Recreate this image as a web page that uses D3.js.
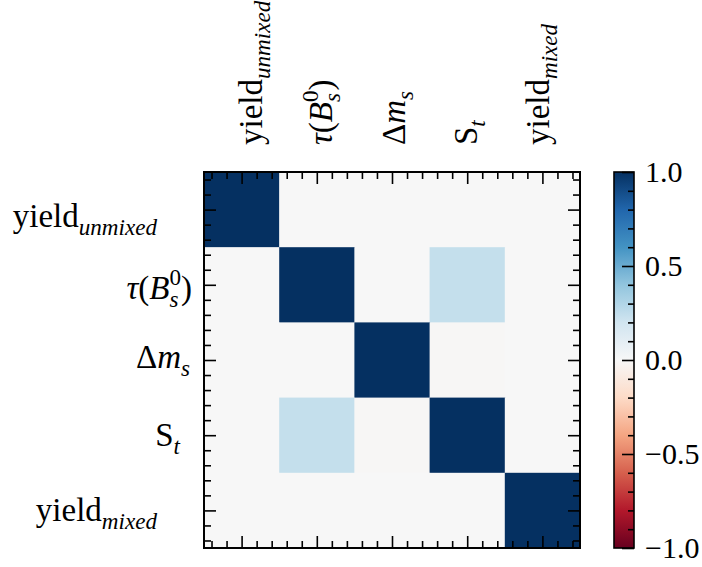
<!DOCTYPE html>
<html>
<head>
<meta charset="utf-8">
<script src="https://cdn.jsdelivr.net/npm/d3@7"></script>
<style>
  body { margin: 0; background: #fff; }
  text { font-family: "Liberation Serif", "DejaVu Serif", serif; fill: #000; }
</style>
</head>
<body>
<div id="chart"></div>
<script>
// variable names (tick labels), split into math pieces
var names = ["yield_unmixed", "tau_Bs0", "dm_s", "S_t", "yield_mixed"];
var labelParts = [
    [["yield", "r"], ["unmixed", "sub"]],
    [["τ", "i"], ["(", "r"], ["B", "i"], ["s", "sub"], ["0", "sup"], [")", "r"]],
    [["Δ", "r"], ["m", "i"], ["s", "sub"]],
    [["S", "r"], ["t", "sub"]],
    [["yield", "r"], ["mixed", "sub"]]
];
// correlation matrix (rows = y labels, cols = x labels)
var corr = [
    [1.00, 0.00, 0.00, 0.00, 0.00],
    [0.00, 1.00, 0.00, 0.24, 0.00],
    [0.00, 0.00, 1.00, -0.01, 0.00],
    [0.00, 0.24, -0.01, 1.00, 0.00],
    [0.00, 0.00, 0.00, 0.00, 1.00]
];
var cbarTicks = [-1, -0.5, 0, 0.5, 1];
// RdBu stops, red end first
var rdbu = ["#67001f", "#b2182b", "#d6604d", "#f4a582", "#fddbc7", "#f7f7f7",
            "#d1e5f0", "#92c5de", "#4393c3", "#2166ac", "#053061"];

var svgWidth = 702, svgHeight = 567;
var plot = {left: 204, top: 172, size: 376};
var cbar = {left: 614, width: 20};
var fs = 33;
// per-label nudges to mimic the mathtext bounding boxes
var yLabelDx = [-35, 0, -2, -12, -35];
var yShift = [17, 14, 8, 11, 11];
var xShift = [20, 15, 13, 10, 7];

var svg = d3.select("#chart").append("svg")
    .attr("width", svgWidth)
    .attr("height", svgHeight);

svg.append("rect").attr("width", svgWidth).attr("height", svgHeight).attr("fill", "#fff");

var color = d3.scaleLinear()
    .domain(d3.range(rdbu.length).map(i => -1 + 2 * i / (rdbu.length - 1)))
    .range(rdbu)
    .clamp(true);

var band = d3.scaleBand().domain(d3.range(names.length)).range([0, plot.size]);
// continuous index scale used for the ticks
var idx = d3.scaleLinear().domain([-0.5, names.length - 0.5]).range([0, plot.size]);

var g = svg.append("g").attr("transform", `translate(${plot.left}, ${plot.top})`);

// cells
var cells = [];
corr.forEach(function(row, i) {
    row.forEach(function(v, j) {
        cells.push({r: i, c: j, v: v});
    });
});
g.selectAll("rect.cell")
    .data(cells)
    .enter()
    .append("rect")
    .attr("class", "cell")
    .attr("x", d => band(d.c))
    .attr("y", d => band(d.r))
    .attr("width", band.bandwidth() + 0.5)
    .attr("height", band.bandwidth() + 0.5)
    .attr("fill", d => color(d.v));

// ticks on all four sides, pointing in
var majors = d3.range(names.length);
var minors = [];
for (var k = -0.4; k < names.length - 0.5; k += 0.2) {
    var m = Math.round(k * 10) / 10;
    if (Math.abs(m - Math.round(m)) > 0.01) minors.push(m);
}
function addTicks(axisFn, transform) {
    [[majors, -12], [minors, -7]].forEach(function(t) {
        var ax = g.append("g")
            .attr("transform", transform)
            .call(axisFn(idx).tickValues(t[0]).tickSize(t[1]).tickFormat(""));
        ax.select(".domain").remove();
        ax.selectAll("line").attr("stroke", "#000").attr("stroke-width", 1.6);
    });
}
addTicks(d3.axisTop, "translate(0,0)");
addTicks(d3.axisBottom, `translate(0, ${plot.size})`);
addTicks(d3.axisLeft, "translate(0,0)");
addTicks(d3.axisRight, `translate(${plot.size}, 0)`);

g.append("rect")
    .attr("width", plot.size)
    .attr("height", plot.size)
    .attr("fill", "none")
    .attr("stroke", "#000")
    .attr("stroke-width", 2);

// math-ish label writer
function writeLabel(text, parts) {
    var shift = 0, lastSubWidth = 0;
    parts.forEach(function(p) {
        var kind = p[1];
        var ts = text.append("tspan").text(p[0]);
        var target = 0;
        if (kind === "sub") target = 0.24 * fs;
        if (kind === "sup") target = -0.42 * fs;
        ts.attr("dy", target - shift);
        shift = target;
        if (kind === "sub" || kind === "sup") {
            ts.attr("font-size", fs * 0.7).attr("font-style", kind === "sub" ? "italic" : "normal");
        } else {
            ts.attr("font-size", fs).attr("font-style", kind === "i" ? "italic" : "normal");
        }
        if (kind === "sup" && lastSubWidth) ts.attr("dx", -lastSubWidth);
        lastSubWidth = kind === "sub" ? ts.node().getComputedTextLength() : 0;
    });
}

// y labels
names.forEach(function(n, i) {
    var t = g.append("text")
        .attr("text-anchor", "end")
        .attr("x", -12 + yLabelDx[i])
        .attr("y", band(i) + band.bandwidth() / 2 + yShift[i]);
    writeLabel(t, labelParts[i]);
});

// x labels on top, rotated
names.forEach(function(n, i) {
    var cx = band(i) + band.bandwidth() / 2 + xShift[i];
    var t = g.append("text")
        .attr("text-anchor", "start")
        .attr("transform", `translate(${cx}, -27) rotate(-90)`);
    writeLabel(t, labelParts[i]);
});

// colorbar
var cy = d3.scaleLinear().domain([-1, 1]).range([plot.top + plot.size, plot.top]);
var grad = svg.append("defs").append("linearGradient")
    .attr("id", "cbgrad")
    .attr("x1", 0).attr("y1", 1).attr("x2", 0).attr("y2", 0);
grad.selectAll("stop")
    .data(d3.range(0, 1.0001, 0.05))
    .enter()
    .append("stop")
    .attr("offset", d => d)
    .attr("stop-color", d => color(d * 2 - 1));

svg.append("rect")
    .attr("x", cbar.left)
    .attr("y", plot.top)
    .attr("width", cbar.width)
    .attr("height", plot.size)
    .attr("fill", "url(#cbgrad)");

var cbMinor = d3.range(-9, 10).map(d => d / 10).filter(d => Math.abs(d * 2 - Math.round(d * 2)) > 0.01);
var cbAxisMinor = svg.append("g")
    .attr("transform", `translate(${cbar.left + cbar.width}, 0)`)
    .call(d3.axisRight(cy).tickValues(cbMinor).tickSize(-6).tickFormat(""));
var cbAxis = svg.append("g")
    .attr("transform", `translate(${cbar.left + cbar.width}, 0)`)
    .call(d3.axisRight(cy).tickValues(cbarTicks).tickSize(-12).tickPadding(11).tickFormat(d3.format(".1f")));
[cbAxis, cbAxisMinor].forEach(function(ax) {
    ax.select(".domain").remove();
    ax.selectAll("line").attr("stroke", "#000").attr("stroke-width", 1.6);
});
cbAxis.selectAll("text")
    .attr("font-family", "Liberation Serif")
    .attr("font-size", 30)
    .attr("fill", "#000");

svg.append("rect")
    .attr("x", cbar.left)
    .attr("y", plot.top)
    .attr("width", cbar.width)
    .attr("height", plot.size)
    .attr("fill", "none")
    .attr("stroke", "#000")
    .attr("stroke-width", 1.6);
</script>
</body>
</html>
